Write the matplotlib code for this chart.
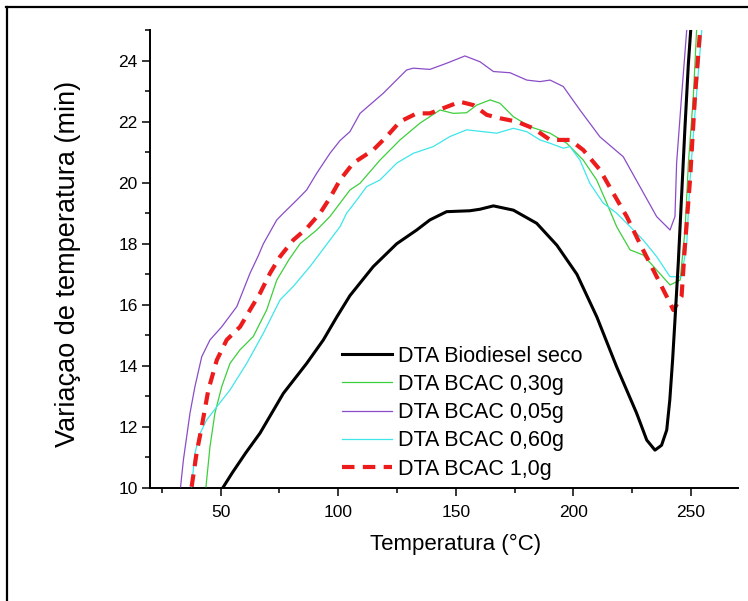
import matplotlib.pyplot as plt
from matplotlib.lines import Line2D

plt.rcParams['font.family'] = ['Liberation Sans', 'DejaVu Sans']

# DTA Biodiesel seco
t_seco = [50.9, 55, 60.7, 66.8, 76.7, 86.6, 93.7, 99.4, 105, 114.9, 124.9, 133.4, 139, 146.1,
          156, 160.3, 166, 174.5, 184.4, 193, 201.5, 210, 218.4, 226.9, 231.2, 234.7, 237.5,
          239.7, 241, 242.2, 243.2, 244.6, 246, 247.4, 248.9, 249.9]
v_seco = [10, 10.5, 11.15, 11.8, 13.1, 14.08, 14.85, 15.6, 16.3, 17.25, 18.0, 18.45, 18.78, 19.05,
          19.08, 19.13, 19.24, 19.1, 18.67, 17.95, 17.0, 15.6, 13.97, 12.45, 11.57, 11.24, 11.4,
          11.9, 12.88, 14.2, 15.5, 17.36, 19.54, 21.73, 23.9, 25]

# DTA BCAC 0,30g
t_030 = [43.8, 45.5, 47.6, 50.5, 54, 58.2, 63.9, 69.6, 73.9, 79, 83.8, 90.9, 96.5, 100.8, 105,
         109.3, 117.8, 126.3, 134.8, 143.3, 149, 154.6, 158.9, 164.6, 168.8, 174.5, 181.6, 190.1,
         197.2, 204.2, 209.9, 214.2, 218.4, 224.1, 229.7, 235.4, 241.1, 245.4, 247.5, 248.9,
         251, 252.4]
v_030 = [10.04, 11.35, 12.45, 13.32, 14.08, 14.52, 14.96, 15.83, 16.81, 17.47, 18.0, 18.45, 18.89,
         19.33, 19.76, 19.98, 20.74, 21.4, 21.95, 22.38, 22.27, 22.29, 22.54, 22.71, 22.6, 22.16,
         21.83, 21.62, 21.29, 20.74, 20.09, 19.33, 18.56, 17.8, 17.63, 17.14, 16.65, 16.81, 18.45,
         20.64, 22.82, 25]

# DTA BCAC 0,05g
t_005 = [33.0, 34.2, 37, 39.1, 42, 45.5, 50.5, 56.9, 62.5, 66, 68.2, 73.9, 76.7, 82.4, 86.6, 90.9,
         96.5, 100.8, 105, 109.3, 119.2, 129.1, 131.9, 139, 146.1, 153.9, 160.3, 166, 173.1, 180.2,
         185.8, 190.1, 195.7, 202.8, 211.3, 221.2, 228.3, 235.4, 241.1, 243.2, 243.9, 246, 248.2]
v_005 = [10.04, 10.92, 12.45, 13.32, 14.3, 14.85, 15.28, 15.94, 17.03, 17.6, 18.0, 18.78, 19.0,
         19.43, 19.76, 20.31, 20.96, 21.38, 21.67, 22.27, 22.93, 23.69, 23.75, 23.71, 23.91, 24.15,
         23.96, 23.64, 23.6, 23.36, 23.31, 23.36, 23.15, 22.38, 21.5, 20.85, 19.87, 18.89, 18.45,
         18.89, 20.64, 22.82, 25]

# DTA BCAC 0,60g
t_060 = [37.7, 39.1, 41.3, 44.1, 48.4, 54, 61.1, 68.2, 75.3, 80.9, 88, 96.5, 100.8, 103.6, 107.9,
         112.1, 117.8, 124.9, 131.9, 140.4, 147.5, 154.6, 161.7, 167.4, 174.5, 180.2, 185.8, 190.1,
         195.7, 198.6, 202.8, 207, 212.7, 218.4, 224.1, 229.7, 235.4, 241.1, 246, 248.2, 249.6,
         251.7, 254.6]
v_060 = [10.04, 11.14, 11.79, 12.23, 12.66, 13.21, 14.08, 15.07, 16.16, 16.6, 17.25, 18.12, 18.56,
         19.0, 19.43, 19.87, 20.09, 20.64, 20.96, 21.18, 21.51, 21.73, 21.67, 21.62, 21.78, 21.67,
         21.4, 21.29, 21.13, 21.18, 20.74, 19.98, 19.33, 19.0, 18.56, 18.12, 17.58, 16.92, 16.92,
         18.0, 20.09, 22.27, 25]

# DTA BCAC 1,0g
t_10 = [37.7, 39.8, 42, 44.8, 48.4, 52.6, 58.3, 62.5, 66.8, 71, 75.3, 80.9, 86.6, 92.3, 96.5,
        100.8, 106.4, 114.9, 120.6, 126.3, 133.4, 139, 144.7, 151.8, 157.5, 163.2, 168.8, 175.9,
        183, 190.1, 198.6, 204.2, 211.3, 217, 222.7, 228.3, 234, 239.7, 242.5, 246, 247.4, 249.6,
        251.7, 253.9]
v_10 = [10.04, 11.14, 12.01, 13.21, 14.19, 14.85, 15.28, 15.83, 16.38, 17.03, 17.58, 18.12, 18.5,
        19.0, 19.5, 20.09, 20.64, 21.07, 21.51, 22.0, 22.27, 22.27, 22.44, 22.65, 22.54, 22.22,
        22.11, 22.0, 21.78, 21.4, 21.4, 21.07, 20.42, 19.65, 18.89, 18.0, 17.14, 16.27, 15.83,
        16.27, 17.9, 20.09, 22.82, 25]

labels = ['DTA Biodiesel seco', 'DTA BCAC 0,30g', 'DTA BCAC 0,05g', 'DTA BCAC 0,60g', 'DTA BCAC 1,0g']

fig = plt.figure(figsize=(7.48, 6.01), dpi=100)
ax = fig.add_axes([150 / 748, 1 - 488 / 601, 588 / 748, 458 / 601])

h1, = ax.plot(t_seco, v_seco, color='black', lw=2.2, zorder=6)
h2, = ax.plot(t_030, v_030, color='#3ccf3c', lw=0.9, zorder=3)
h3, = ax.plot(t_005, v_005, color='#8a4cc8', lw=0.9, zorder=3)
h4, = ax.plot(t_060, v_060, color='#3ee6ea', lw=0.9, zorder=3)
h5, = ax.plot(t_10, v_10, color='#ec1c1c', lw=3, ls=(0, (3, 2)), zorder=5)

ax.set_xlim(20, 270)
ax.set_ylim(10, 25)
ax.set_xticks([50, 100, 150, 200, 250])
ax.set_xticks([25, 75, 125, 175, 225], minor=True)
ax.set_yticks([10, 12, 14, 16, 18, 20, 22, 24])
ax.set_yticks([11, 13, 15, 17, 19, 21, 23, 25], minor=True)

ax.spines['top'].set_visible(False)
ax.spines['right'].set_visible(False)
ax.spines['left'].set_linewidth(1.4)
ax.spines['bottom'].set_linewidth(1.4)
ax.tick_params(which='major', direction='out', length=6, width=1.1, labelsize=12.5)
ax.tick_params(which='minor', direction='out', length=3.5, width=1.1)
ax.tick_params(axis='x', pad=6)
ax.tick_params(axis='y', pad=3)

ax.set_xlabel('Temperatura (°C)', fontsize=16)
ax.set_ylabel('Variaçao de temperatura (min)', fontsize=19.5)
ax.xaxis.set_label_coords((456 - 150) / 588, -(534 - 488) / 458)
ax.yaxis.set_label_coords((81 - 150) / 588, 0.49)

ax.legend([h1, h2, h3, h4, h5], labels, frameon=False, fontsize=15.5,
          loc='upper left', bbox_to_anchor=(342 / 748, 1 - 345.5 / 601),
          bbox_transform=fig.transFigure, borderpad=0, borderaxespad=0,
          handlelength=2.3, handletextpad=0.3, labelspacing=0.34)

# page frame
fig.add_artist(Line2D([6 / 748, 1], [1 - 7 / 601, 1 - 7 / 601], color='black', lw=1.6,
                      transform=fig.transFigure))
fig.add_artist(Line2D([7 / 748, 7 / 748], [0, 1 - 7 / 601], color='black', lw=1.6,
                      transform=fig.transFigure))

fig.savefig('out.png', dpi=100)
